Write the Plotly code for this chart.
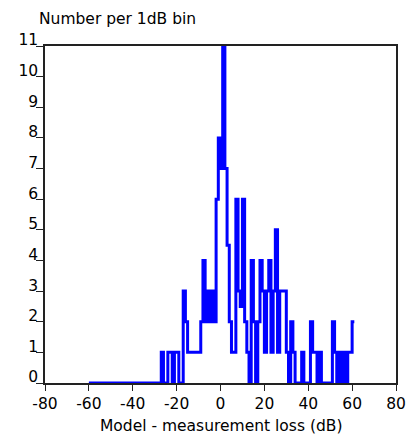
import plotly.graph_objects as go

# Histogram of (model - measurement) loss, counts per 1 dB bin
bin_left_db = list(range(-60, 61))  # left edge of each 1 dB bin
counts = (
    [0] * 33                                   # -60 .. -28
    + [1, 0, 0, 1, 1, 0, 1, 1, 0, 0]           # -27 .. -18
    + [3, 2, 1, 1, 1, 1, 1, 1]                 # -17 .. -10
    + [2, 4, 2, 3, 2, 3, 2]                    # -9 .. -3
    + [6, 8, 7, 11, 7, 4.5, 2, 1, 1, 6]        # -2 .. 7
    + [3, 2.5, 6, 2, 1, 0, 4, 2, 0, 2]         # 8 .. 17
    + [4, 3, 1, 3, 4, 1, 3, 5, 1, 3]           # 18 .. 27
    + [3, 3, 1, 0, 2, 1, 0, 0, 0, 1]           # 28 .. 37
    + [0, 0, 0, 2, 1, 1, 0, 1, 0, 0]           # 38 .. 47
    + [0, 0, 0, 2, 1, 0, 1, 0, 1, 0]           # 48 .. 57
    + [1, 1, 2]                                # 58 .. 60
)
bin_width_db = 1

x_tick_vals = [-80, -60, -40, -20, 0, 20, 40, 60, 80]
x_tick_text = ["-80", "-60", "-40", "-20", "0", "20", "40", "60", "80"]
y_tick_vals = list(range(0, 12))

x_line = bin_left_db + [bin_left_db[-1] + bin_width_db]
y_line = counts + [counts[-1]]

FONT = "DejaVu Sans"
FS = 15.5
fig = go.Figure(
    go.Scatter(
        x=x_line, y=y_line, mode="lines", line_shape="hv",
        line=dict(color="#0000FF", width=3), showlegend=False,
    )
)

fig.update_layout(
    width=416, height=437,
    margin=dict(l=45, r=10, t=46, b=54),
    paper_bgcolor="white", plot_bgcolor="white",
    font=dict(family=FONT, size=FS, color="black"),
)
fig.update_xaxes(
    range=[-80, 80], tickvals=x_tick_vals, ticktext=x_tick_text,
    ticks="outside", ticklen=6,
    tickcolor="#222", showgrid=False, zeroline=False, showline=True,
    linecolor="#222", linewidth=1.5, mirror=True,
    tickfont=dict(family=FONT, size=FS, color="black"),
    ticklabelstandoff=0,
)
fig.update_yaxes(
    range=[0, 11], tickvals=y_tick_vals, ticks="outside", ticklen=7,
    tickcolor="#222", showgrid=False, zeroline=False, showline=True,
    linecolor="#222", linewidth=1.5, mirror=True,
    tickfont=dict(family=FONT, size=FS, color="black"),
    ticklabelshift=-6, ticklabelstandoff=-5,
)
fig.add_annotation(
    text="Number per 1dB bin", xref="paper", yref="paper",
    x=-8 / 361, y=(337 + 26.5) / 337, xanchor="left", yanchor="middle",
    showarrow=False, font=dict(family=FONT, size=FS, color="black"),
)
fig.add_annotation(
    text="Model - measurement loss (dB)", xref="paper", yref="paper",
    x=0.5, y=-(426 - 383) / 337, xanchor="center", yanchor="middle",
    showarrow=False, font=dict(family=FONT, size=FS, color="black"),
)
fig.write_html("out.html")
